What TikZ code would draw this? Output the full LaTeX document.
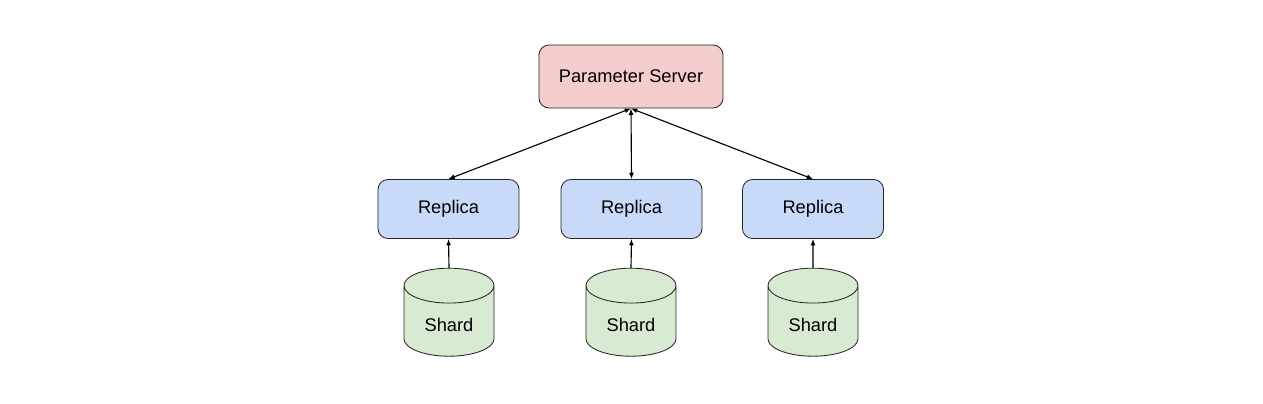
\documentclass[tikz,border=0pt]{standalone}
\usepackage{fontspec}
\setmainfont{Liberation Sans}
\usepackage{tikz}
\usetikzlibrary{arrows.meta,positioning,shapes.geometric}
\definecolor{psred}{HTML}{F4CCCC}
\definecolor{repblue}{HTML}{C9DAF8}
\definecolor{shgreen}{HTML}{D9EAD3}

\begin{document}
\begin{tikzpicture}[x=0.025cm,y=-0.025cm,font=\fontsize{13}{15}\selectfont,
  server/.style={draw=black!85,fill=psred,rounded corners=0.25cm,minimum width=4.6cm,minimum height=1.575cm,line width=0.6pt},
  replica/.style={draw=black!85,fill=repblue,rounded corners=0.25cm,minimum width=3.525cm,minimum height=1.475cm,line width=0.6pt},
  shard/.style={draw=black!85,fill=shgreen,cylinder,shape border rotate=90,aspect=0.6,minimum width=2.25cm,minimum height=2.2cm,line width=0.6pt},
  link/.style={line width=0.8pt,{Latex[length=4.5pt,width=3.5pt]}-{Latex[length=4.5pt,width=3.5pt]}},
  feed/.style={line width=0.8pt,-{Latex[length=4.5pt,width=3.5pt]}}]
  \useasboundingbox (0,0) rectangle (1263,403);
  \node[server] (ps) at (631,76.5) {Parameter Server};

  \node[replica] (rep1) at (448.5,209) {Replica};
  \node[replica] (rep2) at (631.5,209) {Replica};
  \node[replica] (rep3) at (813,209) {Replica};

  \node[shard] (sh1) at (449,325) {Shard};
  \node[shard] (sh2) at (631,325) {Shard};
  \node[shard] (sh3) at (813,325) {Shard};

  \draw[link] (ps.south) -- (rep1.north);
  \draw[link] (ps.south) -- (rep2.north);
  \draw[link] (ps.south) -- (rep3.north);
  \draw[feed] (sh1.north) -- (rep1.south);
  \draw[feed] (sh2.north) -- (rep2.south);
  \draw[feed] (sh3.north) -- (rep3.south);
\end{tikzpicture}
\end{document}
